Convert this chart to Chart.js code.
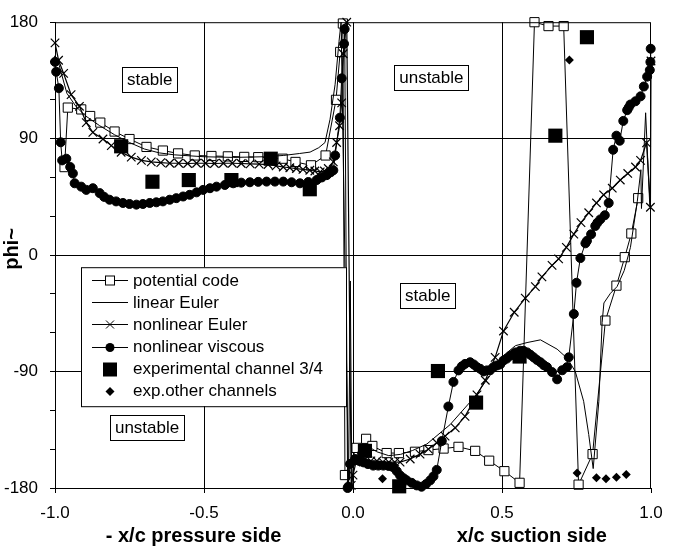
<!DOCTYPE html>
<html>
<head>
<meta charset="utf-8">
<script src="https://cdn.jsdelivr.net/npm/chart.js@4.4.1/dist/chart.umd.min.js"></script>
<style>
  body { margin: 0; background: #fff; }
  canvas { display: block; }
</style>
</head>
<body>
<canvas id="myChart" width="680" height="548"></canvas>
<script>
// [x/c, phi~]  pressure side is plotted as -x/c
const potentialCode = [
  [-0.968, 68], [-0.957, 114], [-0.912, 112.6], [-0.882, 107.5], [-0.848, 102.4], [-0.8, 95.5],
  [-0.75, 89.7], [-0.693, 83.6], [-0.638, 80.8], [-0.587, 78.6], [-0.531, 77], [-0.475, 76.6],
  [-0.42, 76.3], [-0.365, 75.9], [-0.318, 75.7], [-0.276, 75.3], [-0.236, 74.5], [-0.193, 72],
  [-0.141, 69.4], [-0.092, 77], [-0.057, 120], [-0.043, 157], [-0.034, 179],
  [-0.027, -170], [0.012, -149], [0.044, -142], [0.065, -147.5], [0.113, -153], [0.154, -153],
  [0.208, -152], [0.253, -150.7], [0.304, -149.5], [0.354, -148.2], [0.41, -151.3], [0.457, -158.9],
  [0.508, -167], [0.559, -176], [0.609, 180], [0.656, 177], [0.707, 177], [0.757, -177.4],
  [0.804, -153.8], [0.847, -50.6], [0.884, -23.6], [0.912, -1.6], [0.934, 16.7], [0.957, 44]
];

const linearEuler = [
  [-0.99, 150], [-0.96, 125], [-0.93, 115], [-0.9, 108], [-0.85, 100], [-0.8, 93], [-0.75, 87],
  [-0.7, 82], [-0.65, 79], [-0.6, 77.5], [-0.5, 76], [-0.4, 75.5], [-0.3, 76], [-0.234, 77],
  [-0.18, 78.5], [-0.144, 79.6], [-0.115, 83], [-0.094, 87], [-0.077, 105], [-0.06, 132],
  [-0.047, 165], [-0.04, 180], [-0.015, -178], [-0.009, -20], [-0.004, -178],
  [0.0, -165], [0.02, -150], [0.045, -147], [0.08, -152], [0.12, -155], [0.16, -154], [0.2, -151],
  [0.248, -146], [0.326, -131], [0.404, -110.7], [0.46, -93], [0.505, -77.7], [0.545, -70],
  [0.584, -67.6], [0.629, -65.5], [0.685, -72.7], [0.72, -80], [0.746, -90], [0.774, -113],
  [0.791, -138.6], [0.806, -165], [0.825, -113], [0.836, -52], [0.842, -37], [0.864, -29.5],
  [0.886, -24.4], [0.91, -12], [0.931, 6], [0.954, 41.5], [0.966, 66], [0.968, 36],
  [0.982, 110], [0.996, 38]
];

const nonlinearEuler = [
  [-1.0, 164], [-0.988, 150.6], [-0.971, 140.4], [-0.946, 124], [-0.918, 115], [-0.895, 102.4],
  [-0.873, 94.8], [-0.839, 89.7], [-0.811, 84.6], [-0.778, 79.5], [-0.744, 75.7], [-0.71, 73.2],
  [-0.677, 72], [-0.645, 71.5], [-0.615, 71], [-0.585, 71], [-0.555, 70.8], [-0.525, 71],
  [-0.495, 71], [-0.465, 70.8], [-0.435, 71], [-0.405, 71], [-0.375, 70.8], [-0.345, 70.5],
  [-0.315, 70.3], [-0.285, 70], [-0.258, 69], [-0.234, 68.1], [-0.212, 67.5], [-0.19, 66.9],
  [-0.168, 66.2], [-0.145, 65.6], [-0.128, 65], [-0.11, 64.3], [-0.096, 65], [-0.083, 66.9],
  [-0.066, 72], [-0.055, 87], [-0.045, 100], [-0.038, 117.6], [-0.033, 155.6], [-0.021, 180],
  [-0.006, -178], [0.0, -170], [0.01, -160], [0.02, -158], [0.04, -158], [0.06, -159],
  [0.08, -159], [0.1, -160], [0.12, -160], [0.14, -160], [0.158, -160], [0.192, -157.6],
  [0.225, -153.8], [0.253, -150], [0.281, -145], [0.309, -139.9], [0.343, -133.5], [0.376, -124.6],
  [0.416, -108], [0.444, -96.7], [0.477, -79], [0.505, -58.7], [0.541, -44.2], [0.578, -33.3],
  [0.612, -24.4], [0.634, -16.8], [0.668, -7.9], [0.69, -2.9], [0.716, 6], [0.741, 16.2],
  [0.765, 25.1], [0.791, 32.7], [0.817, 40.3], [0.841, 46.6], [0.87, 51.7], [0.897, 58],
  [0.922, 63.1], [0.948, 68.1], [0.965, 73.2], [0.985, 86.7], [0.998, 37], [1.0, 150]
];

const nonlinearViscous = [
  [-1.0, 149.3], [-0.996, 141.7], [-0.987, 129], [-0.981, 87.2], [-0.976, 73.2], [-0.962, 74.5],
  [-0.949, 68.1], [-0.94, 63.1], [-0.934, 55.5], [-0.912, 52.9], [-0.895, 50.4], [-0.873, 51.7],
  [-0.85, 47.9], [-0.835, 45], [-0.817, 42.8], [-0.795, 41.5], [-0.772, 40.3], [-0.75, 39.5],
  [-0.727, 39], [-0.705, 39.5], [-0.682, 40.3], [-0.66, 40.8], [-0.638, 41.5], [-0.615, 42.8],
  [-0.593, 44], [-0.57, 45.3], [-0.548, 46.6], [-0.525, 48.5], [-0.503, 50.4], [-0.48, 51.7],
  [-0.458, 52.9], [-0.43, 54.2], [-0.402, 55.5], [-0.375, 56], [-0.346, 56.3], [-0.318, 56.6],
  [-0.29, 56.8], [-0.262, 56.8], [-0.234, 56.8], [-0.206, 56.3], [-0.178, 55.5], [-0.15, 56.5],
  [-0.122, 58], [-0.105, 60], [-0.088, 61.8], [-0.075, 64], [-0.066, 65.6], [-0.06, 77],
  [-0.044, 106.2], [-0.038, 136.6], [-0.03, 163.3], [-0.028, 174.7],
  [-0.018, -180], [-0.016, -179], [-0.01, -161.4], [0.007, -157.6], [0.02, -159], [0.035, -160.2],
  [0.05, -161.5], [0.068, -162.7], [0.085, -162.7], [0.102, -162.7], [0.12, -163], [0.135, -164],
  [0.147, -167], [0.158, -170.3], [0.17, -172.5], [0.18, -174.1], [0.197, -176], [0.214, -178],
  [0.23, -179], [0.245, -177], [0.259, -174.1], [0.27, -171], [0.281, -166], [0.298, -143.7],
  [0.32, -117], [0.337, -98], [0.354, -89.1], [0.365, -86], [0.376, -84.1], [0.393, -82.8],
  [0.405, -84.5], [0.416, -86.6], [0.427, -87.9], [0.438, -89.9], [0.449, -89.1], [0.46, -89],
  [0.471, -86.6], [0.483, -85.3], [0.494, -84.5], [0.505, -81.5], [0.516, -80], [0.528, -77.7],
  [0.539, -76.5], [0.545, -75.2], [0.561, -73.9], [0.572, -74], [0.584, -75.2], [0.595, -77],
  [0.606, -79], [0.617, -81], [0.629, -82.8], [0.64, -85], [0.651, -86.6], [0.668, -90.4],
  [0.685, -96], [0.702, -89], [0.718, -86.6], [0.724, -79], [0.741, -45.5], [0.75, -21.4],
  [0.763, -2.3], [0.78, 9.1], [0.785, 11], [0.799, 16.1], [0.813, 22.5], [0.82, 25], [0.83, 27.6],
  [0.845, 30.8], [0.858, 40.3], [0.873, 81.4], [0.884, 92.3], [0.895, 88.4], [0.907, 103.7],
  [0.92, 112], [0.925, 114], [0.931, 116.4], [0.948, 118.9], [0.965, 122.7], [0.976, 130.3],
  [0.987, 137.9], [0.996, 143], [0.998, 149.3], [0.999, 159.5]
];

const expChannel34 = [
  [-0.778, 84.1], [-0.673, 56.7], [-0.551, 58], [-0.408, 58], [-0.276, 74.5], [-0.145, 50.9],
  [0.04, -151.3], [0.155, -178.7], [0.285, -89.6], [0.413, -114], [0.559, -78.4],
  [0.679, 92.3], [0.785, 168.4]
];

const expOtherChannels = [
  [0.099, -172.8], [0.726, 150.8], [0.752, -168.5], [0.817, -172], [0.849, -172.8],
  [0.884, -171.6], [0.917, -169.5]
];

const xTickValues = [-1, -0.5, 0, 0.5, 1];
const yLabelValues = [-180, -90, 0, 90, 180];

const regionLabels = [
  { text: "stable", x: -0.682, y: 135.6 },
  { text: "unstable", x: 0.263, y: 137.3 },
  { text: "stable", x: 0.251, y: -31 },
  { text: "unstable", x: -0.691, y: -132.9 }
];

const legendItems = [
  { text: "potential code", line: true, marker: "openSquare" },
  { text: "linear Euler", line: true, marker: null },
  { text: "nonlinear Euler", line: true, marker: "cross" },
  { text: "nonlinear viscous", line: true, marker: "dot" },
  { text: "experimental channel 3/4", line: false, marker: "bigSquare" },
  { text: "exp.other channels", line: false, marker: "diamond" }
];

const FONT = '"Liberation Sans", Arial, sans-serif';
const toXY = (arr) => arr.map(([x, y]) => ({ x, y }));

function drawMarker(ctx, kind, x, y) {
  ctx.save();
  ctx.strokeStyle = "#000";
  ctx.fillStyle = "#000";
  ctx.lineWidth = 1;
  if (kind === "openSquare") {
    ctx.fillStyle = "#fff";
    ctx.fillRect(x - 4.5, y - 4.5, 9, 9);
    ctx.strokeRect(x - 4.5, y - 4.5, 9, 9);
  } else if (kind === "cross") {
    ctx.beginPath();
    ctx.moveTo(x - 4, y - 4); ctx.lineTo(x + 4, y + 4);
    ctx.moveTo(x + 4, y - 4); ctx.lineTo(x - 4, y + 4);
    ctx.stroke();
  } else if (kind === "dot") {
    ctx.beginPath();
    ctx.arc(x, y, 4.5, 0, Math.PI * 2);
    ctx.fill();
  } else if (kind === "bigSquare") {
    ctx.fillRect(x - 7, y - 7, 14, 14);
  } else if (kind === "diamond") {
    ctx.beginPath();
    ctx.moveTo(x, y - 4.5); ctx.lineTo(x + 4.5, y); ctx.lineTo(x, y + 4.5); ctx.lineTo(x - 4.5, y);
    ctx.closePath();
    ctx.fill();
  }
  ctx.restore();
}

const decorations = {
  id: "decorations",
  afterDatasetsDraw(chart) {
    const { ctx, chartArea: a, scales } = chart;
    const sx = scales.x, sy = scales.y;
    ctx.save();

    // plot frame
    ctx.strokeStyle = "#000";
    ctx.lineWidth = 1;
    ctx.strokeRect(a.left + 0.5, a.top + 0.5, a.right - a.left - 1, a.bottom - a.top);

    // stable / unstable boxes
    ctx.font = "17px " + FONT;
    ctx.textAlign = "center";
    ctx.textBaseline = "middle";
    regionLabels.forEach((r) => {
      const cx = sx.getPixelForValue(r.x), cy = sy.getPixelForValue(r.y);
      const w = ctx.measureText(r.text).width + 10, h = 25;
      ctx.fillStyle = "#fff";
      ctx.fillRect(cx - w / 2, cy - h / 2, w, h);
      ctx.strokeRect(Math.round(cx - w / 2) + 0.5, Math.round(cy - h / 2) + 0.5, Math.round(w), h);
      ctx.fillStyle = "#000";
      ctx.fillText(r.text, cx, cy + 1);
    });

    // legend box
    const lx = a.left + 26, ly = a.top + 245, lw = 265, lh = 139;
    ctx.fillStyle = "#fff";
    ctx.fillRect(lx, ly, lw, lh);
    ctx.strokeRect(lx + 0.5, ly + 0.5, lw, lh);
    ctx.textAlign = "left";
    legendItems.forEach((item, i) => {
      const rowY = ly + 13 + i * 22.1;
      if (item.line) {
        ctx.beginPath();
        ctx.moveTo(lx + 11, Math.round(rowY) + 0.5);
        ctx.lineTo(lx + 47, Math.round(rowY) + 0.5);
        ctx.stroke();
      }
      if (item.marker) drawMarker(ctx, item.marker, lx + 29, Math.round(rowY) + 0.5);
      ctx.fillStyle = "#000";
      ctx.fillText(item.text, lx + 52, rowY + 1);
    });

    // axis titles
    ctx.font = "bold 20px " + FONT;
    ctx.textAlign = "center";
    ctx.fillText("- x/c pressure side", sx.getPixelForValue(-0.535), 536);
    ctx.fillText("x/c suction side", sx.getPixelForValue(0.6), 536);
    ctx.translate(12, 249);
    ctx.rotate(-Math.PI / 2);
    ctx.fillText("phi~", 0, 0);
    ctx.restore();
  }
};

const ctx = document.getElementById("myChart");

new Chart(ctx, {
  type: "scatter",
  data: {
    datasets: [
      {
        label: "experimental channel 3/4",
        data: toXY(expChannel34),
        showLine: false,
        pointStyle: "rect",
        pointRadius: 10,
        backgroundColor: "#000",
        borderColor: "#000",
        borderWidth: 0,
      },
      {
        label: "exp.other channels",
        data: toXY(expOtherChannels),
        showLine: false,
        pointStyle: "rectRot",
        pointRadius: 4.5,
        backgroundColor: "#000",
        borderColor: "#000",
        borderWidth: 0,
      },
      {
        label: "nonlinear viscous",
        data: toXY(nonlinearViscous),
        showLine: true,
        pointStyle: "circle",
        pointRadius: 4.5,
        backgroundColor: "#000",
        borderColor: "#000",
        borderWidth: 1,
      },
      {
        label: "nonlinear Euler",
        data: toXY(nonlinearEuler),
        showLine: true,
        pointStyle: "crossRot",
        pointRadius: 6,
        backgroundColor: "#000",
        borderColor: "#000",
        borderWidth: 1.2,
      },
      {
        label: "linear Euler",
        data: toXY(linearEuler),
        showLine: true,
        pointRadius: 0,
        borderColor: "#000",
        borderWidth: 1,
      },
      {
        label: "potential code",
        data: toXY(potentialCode),
        showLine: true,
        pointStyle: "rect",
        pointRadius: 6.5,
        backgroundColor: "#fff",
        borderColor: "#000",
        borderWidth: 1,
      },
    ],
  },
  options: {
    responsive: false,
    animation: false,
    clip: false,
    layout: { padding: { left: 0, right: 29, top: 15, bottom: 0 } },
    elements: { line: { tension: 0 } },
    scales: {
      x: {
        type: "linear",
        min: -1,
        max: 1,
        afterFit: (s) => { s.height = 60; },
        afterBuildTicks: (s) => { s.ticks = xTickValues.map((v) => ({ value: v })); },
        ticks: {
          font: { family: FONT, size: 17 },
          color: "#000",
          padding: 10,
          maxRotation: 0,
          callback: (v) => Number(v).toFixed(1),
        },
        grid: {
          color: (c) => (c.tick && Math.abs(c.tick.value) < 0.99 ? "#000" : "rgba(0,0,0,0)"),
          tickColor: "#000",
          tickLength: 5,
          lineWidth: 1,
        },
        border: { color: "#000" },
      },
      y: {
        type: "linear",
        min: -180,
        max: 180,
        afterFit: (s) => { s.width = 55; },
        ticks: {
          stepSize: 30,
          font: { family: FONT, size: 17 },
          color: "#000",
          padding: 12,
          callback: (v) => (yLabelValues.includes(v) ? String(v) : ""),
        },
        grid: {
          color: (c) => (c.tick && c.tick.value % 90 === 0 && Math.abs(c.tick.value) < 180 ? "#000" : "rgba(0,0,0,0)"),
          tickColor: "#000",
          tickLength: 5,
          lineWidth: 1,
        },
        border: { color: "#000" },
      },
    },
    plugins: {
      legend: { display: false },
      tooltip: { enabled: false },
    },
  },
  plugins: [decorations],
});
</script>
</body>
</html>
